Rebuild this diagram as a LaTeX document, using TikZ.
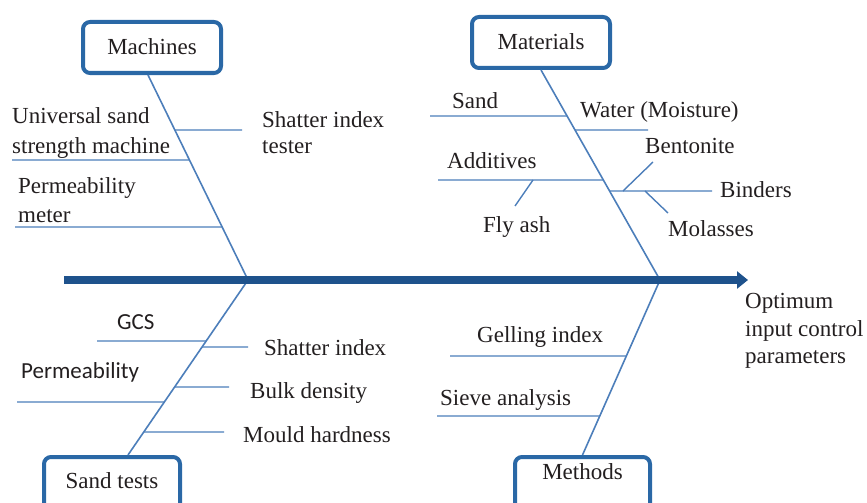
\documentclass[tikz,border=0pt]{standalone}
\usepackage{fontspec}
\setmainfont{Liberation Serif}
\newfontfamily\calib{Carlito}
\usetikzlibrary{arrows.meta}
\definecolor{boxblue}{RGB}{42,104,166}
\definecolor{boneblue}{RGB}{76,126,186}
\definecolor{spineblue}{RGB}{30,82,140}
\definecolor{txt}{RGB}{35,31,32}
\begin{document}
\begin{tikzpicture}[x=1pt,y=-1pt,
  lbl/.style={anchor=base west, inner sep=0pt, text=txt, font=\fontsize{23}{29}\selectfont, align=left},
  sanslbl/.style={lbl, font=\calib\fontsize{23}{29}\selectfont},
  cat/.style={draw=boxblue, fill=white, line width=4pt, rounded corners=7pt, inner sep=0pt, text=txt,
    font=\fontsize{23}{28}\selectfont, minimum width=138pt, minimum height=51pt,
    text height=15pt, text depth=0pt},
  bone/.style={draw=boneblue, line width=1.6pt},
  twig/.style={draw=boneblue, line width=1.4pt},
  spine/.style={draw=spineblue, line width=8pt, -{Triangle[length=11pt,width=17pt]}}]
\useasboundingbox (0,0) rectangle (867,503);
\clip (0,0) rectangle (867,503);

% category boxes
\node[cat] (mach) at (152,47.5) {Machines};
\node[cat] (mat) at (541,42.5) {Materials};
\node[cat, minimum width=136pt, minimum height=70pt, text depth=23pt] (sand) at (112,492) {Sand tests};
\node[cat, minimum width=135pt, minimum height=70pt, text depth=41pt] (meth) at (582.5,492) {Methods};

% spine points
\coordinate (pM) at (248,280);
\coordinate (pT) at (660,280);
\coordinate (spS) at (64,280);
\coordinate (spE) at (748,280);
\coordinate (mB) at ([xshift=-4pt]mach.south);
\coordinate (sB) at ([xshift=16pt]sand.north);

% bones
\draw[bone] (mB) -- (pM);
\draw[bone] (mat.south) -- (pT);
\draw[bone] (pM) -- (sB);
\draw[bone] (pT) -- (meth.north);
\draw[spine] (spS) -- (spE);

% Machines branches
\coordinate (mb1) at (intersection of mB--pM and 0,130--1,130);
\coordinate (mb1e) at (242,130);
\draw[twig] (mb1) -- (mb1e);
\node[lbl] (tester) at (262,153) {Shatter index\\[-3pt]tester};
\coordinate (mb2) at (intersection of mB--pM and 0,160--1,160);
\coordinate (mb2e) at (12,160);
\draw[twig] (mb2e) -- (mb2);
\node[lbl] (usm) at (12,153) {Universal sand\\[1pt]strength machine};
\coordinate (mb3) at (intersection of mB--pM and 0,227--1,227);
\coordinate (mb3e) at (15,227);
\draw[twig] (mb3e) -- (mb3);
\node[lbl] (pmeter) at (18,222) {Permeability\\meter};

% Materials branches
\coordinate (tb1) at (intersection of mat.south--pT and 0,116--1,116);
\coordinate (tb1e) at (430,116);
\draw[twig] (tb1e) -- (tb1);
\node[lbl] (sandl) at (452,108) {Sand};
\coordinate (tb2) at (intersection of mat.south--pT and 0,130--1,130);
\coordinate (tb2e) at (648,130);
\draw[twig] (tb2) -- (tb2e);
\node[lbl] (water) at (580,117) {Water (Moisture)};
\coordinate (tb3) at (intersection of mat.south--pT and 0,180--1,180);
\coordinate (tb3e) at (438,180);
\draw[twig] (tb3e) -- (tb3);
\node[lbl] (addl) at (447,168) {Additives};
\coordinate (fa1) at (533,180);
\coordinate (fa2) at (515,206);
\draw[twig] (fa1) -- (fa2);
\node[lbl] (fly) at (483,232) {Fly ash};
\coordinate (tb4) at (intersection of mat.south--pT and 0,191--1,191);
\coordinate (tb4e) at (712,191);
\draw[twig] (tb4) -- (tb4e);
\node[lbl] (bind) at (720,197) {Binders};
\coordinate (be1) at (623,191);
\coordinate (be2) at (653,162);
\draw[twig] (be1) -- (be2);
\node[lbl] (bent) at (645,153) {Bentonite};
\coordinate (mo1) at (645,191);
\coordinate (mo2) at (668,213);
\draw[twig] (mo1) -- (mo2);
\node[lbl] (mol) at (668,236) {Molasses};

% Sand tests branches
\coordinate (sb1) at (intersection of pM--sB and 0,341--1,341);
\coordinate (sb1e) at (97,341);
\draw[twig] (sb1e) -- (sb1);
\node[sanslbl] (gcs) at (117,329) {GCS};
\coordinate (sb2) at (intersection of pM--sB and 0,347--1,347);
\coordinate (sb2e) at (248,347);
\draw[twig] (sb2) -- (sb2e);
\node[lbl] (shat) at (264,355) {Shatter index};
\coordinate (sb3) at (intersection of pM--sB and 0,387--1,387);
\coordinate (sb3e) at (229,387);
\draw[twig] (sb3) -- (sb3e);
\node[lbl] (bulk) at (250,398) {Bulk density};
\coordinate (sb4) at (intersection of pM--sB and 0,402--1,402);
\coordinate (sb4e) at (17,402);
\draw[twig] (sb4e) -- (sb4);
\node[sanslbl] (perm) at (21,378) {Permeability};
\coordinate (sb5) at (intersection of pM--sB and 0,432--1,432);
\coordinate (sb5e) at (224,432);
\draw[twig] (sb5) -- (sb5e);
\node[lbl] (mould) at (243,442) {Mould hardness};

% Methods branches
\coordinate (hb1) at (intersection of pT--meth.north and 0,356--1,356);
\coordinate (hb1e) at (450,356);
\draw[twig] (hb1e) -- (hb1);
\node[lbl] (gel) at (477,342) {Gelling index};
\coordinate (hb2) at (intersection of pT--meth.north and 0,416--1,416);
\coordinate (hb2e) at (437,416);
\draw[twig] (hb2e) -- (hb2);
\node[lbl] (sieve) at (440,405) {Sieve analysis};

% effect
\node[lbl] (opt) at (745,363) {Optimum\\[-1pt]input control\\[-2pt]parameters};
\end{tikzpicture}
\end{document}
